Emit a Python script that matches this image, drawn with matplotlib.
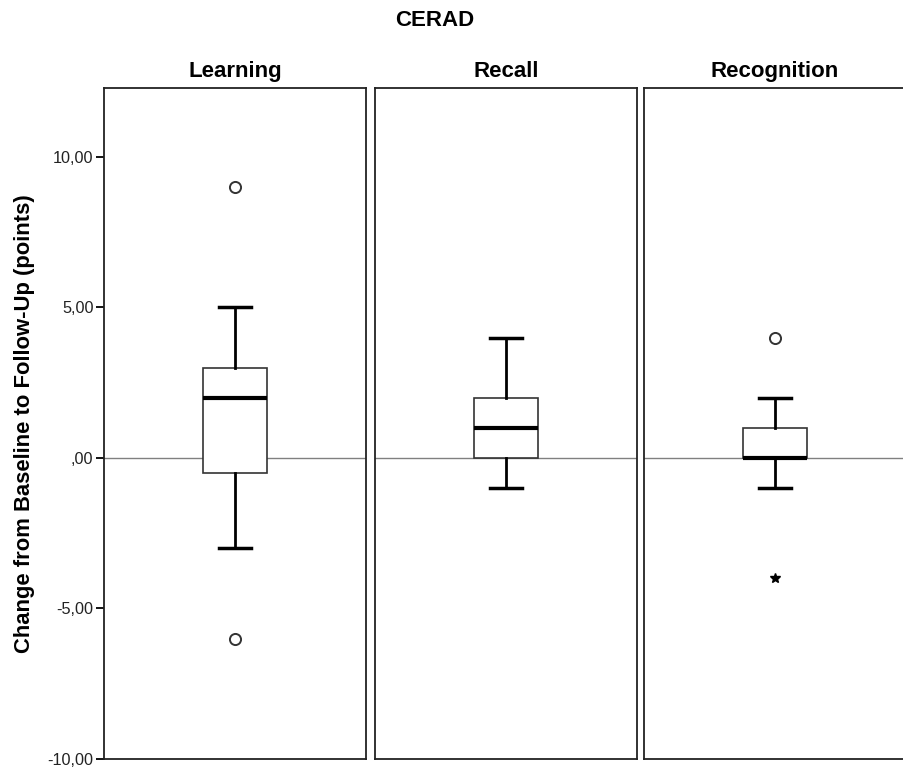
import matplotlib.pyplot as plt

plt.rcParams["font.family"] = ["Liberation Sans", "DejaVu Sans"]

panels = ["Learning", "Recall", "Recognition"]
q1 = [-0.5, 0, 0]
medians = [2, 1, 0]
q3 = [3, 2, 1]
whis_lo = [-3, -1, -1]
whis_hi = [5, 4, 2]
outliers = [[9, -6], [], [4]]
extremes = [[], [], [-4]]

yticks = [-10, -5, 0, 5, 10]
ytick_labels = ["-10,00", "-5,00", ",00", "5,00", "10,00"]

fig = plt.figure(figsize=(9.04, 7.76), dpi=100)
lefts = [0.115, 0.415, 0.712]
axes = [fig.add_axes([l, 0.022, 0.290, 0.865]) for l in lefts]

for i, ax in enumerate(axes):
    stats = [{
        "med": medians[i], "q1": q1[i], "q3": q3[i],
        "whislo": whis_lo[i], "whishi": whis_hi[i], "fliers": [],
    }]
    ax.axhline(0, color="#808080", lw=1, zorder=1)
    ax.bxp(
        stats, positions=[0], widths=0.245, showfliers=False,
        patch_artist=True,
        boxprops=dict(facecolor="white", edgecolor="#333333", linewidth=1.2),
        medianprops=dict(color="black", linewidth=3),
        whiskerprops=dict(color="black", linewidth=2),
        capprops=dict(color="black", linewidth=2.5),
        capwidths=0.123,
        zorder=2,
    )
    if outliers[i]:
        ax.plot([0] * len(outliers[i]), outliers[i], "o", ms=8, mfc="white",
                mec="#333333", mew=1.4, zorder=3)
    if extremes[i]:
        ax.plot([0] * len(extremes[i]), extremes[i], "*", ms=7.5, color="black",
                zorder=3)
    ax.set_xlim(-0.5, 0.5)
    ax.set_ylim(-10, 12.3)
    ax.set_xticks([])
    ax.set_title(panels[i], fontsize=16, fontweight="bold", pad=8)
    for s in ax.spines.values():
        s.set_linewidth(1.3)
        s.set_color("#222222")
    if i == 0:
        ax.set_yticks(yticks)
        ax.set_yticklabels(ytick_labels, fontsize=11.7, color="#222222")
        ax.tick_params(axis="y", direction="out", length=6, width=1.3, pad=1.5)
        ax.set_ylabel("Change from Baseline to Follow-Up (points)",
                      fontsize=15.8, fontweight="bold", labelpad=9)
    else:
        ax.set_yticks([])

fig.text(0.481, 0.966, "CERAD", fontsize=16, fontweight="bold",
         ha="center", va="baseline")

fig.savefig("out.png", dpi=100)
